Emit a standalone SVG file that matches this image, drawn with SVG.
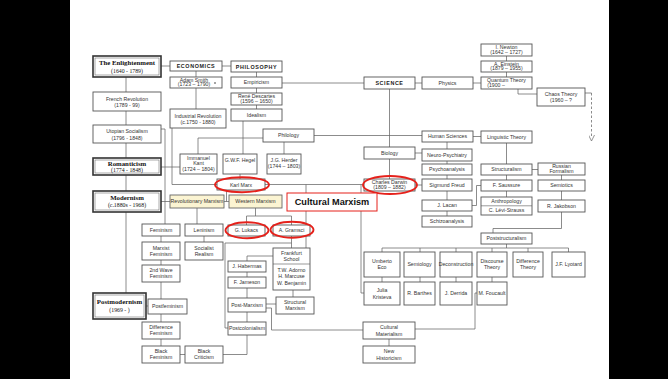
<svg xmlns="http://www.w3.org/2000/svg" width="668" height="379" viewBox="0 0 668 379">
<style>
.b{fill:#fff;stroke:#555;stroke-width:0.9}
.y{fill:#fbf4d2;stroke:#666;stroke-width:0.9}
.h{fill:#fff;stroke:#333;stroke-width:1.6}
.hi{fill:none;stroke:#555;stroke-width:0.5}
.t{font-family:"Liberation Sans",Arial,sans-serif;font-size:5.2px;fill:#333;text-anchor:middle}
.w{font-family:"Liberation Sans",Arial,sans-serif;font-size:5.2px;fill:#333;text-anchor:middle}
.hd{font-family:"Liberation Sans",Arial,sans-serif;font-weight:bold;font-size:5.4px;letter-spacing:0.6px;fill:#222;text-anchor:middle}
.sf{font-family:"Liberation Serif","Times New Roman",serif;font-weight:bold;font-size:6.8px;fill:#111;text-anchor:middle}
.sd{font-family:"Liberation Serif","Times New Roman",serif;font-size:5.8px;fill:#111;text-anchor:middle}
.c{fill:none;stroke:#666;stroke-width:0.75}
.r{fill:none;stroke:#e5211b;stroke-width:1.9}
</style>
<defs>
<marker id="ah" markerWidth="6" markerHeight="6" refX="3" refY="3" orient="auto" markerUnits="userSpaceOnUse"><path d="M0,0 L6,3 L0,6" fill="none" stroke="#666" stroke-width="0.7"/></marker>
</defs>
<rect x="0" y="0" width="668" height="379" fill="#fff"/>
<rect x="0" y="0" width="70" height="379" fill="#000"/>
<rect x="609" y="0" width="59" height="379" fill="#000"/>

<g id="connectors">
<path class="c" d="M161,66H170M222,66H231"/>
<path class="c" d="M126,77V92M126,111V125M126,143V158M126,175V191M126,212V293"/>
<path class="c" d="M196,71V77M196,88V109"/>
<path class="c" d="M256.5,72V77M256.5,88V93M256.5,105V109"/>
<path class="c" d="M282,83H364M415,83H422M473,83H481"/>
<path class="c" d="M506.5,56V61M506.5,72V77"/>
<path class="c" d="M518,89V94H537"/>
<path class="c" d="M585,93H591.5"/>
<path class="c" d="M591.5,93V138" stroke-dasharray="2.5,2" marker-end="url(#ah)"/>
<path class="c" d="M389.5,89V147M389.5,159V179"/>
<path class="c" d="M314,135.5H422"/>
<path class="c" d="M243,121V154"/>
<path class="c" d="M198,154V138H263"/>
<path class="c" d="M284,142V154"/>
<path class="c" d="M161,167H180"/>
<path class="c" d="M240,174V179"/>
<path class="c" d="M172,128V184.5H217"/>
<path class="c" d="M161,129H165V224"/>
<path class="c" d="M161,201.5H170M224,201.5H229M226.5,190V201.5"/>
<path class="c" d="M197,208V224M204,236V242"/>
<path class="c" d="M161,236V242M161,260V265M161,282V299M161,314V322M161,339V346"/>
<path class="c" d="M146,306H148M180,354.5H185"/>
<path class="c" d="M247,335V354.5H223"/>
<path class="c" d="M255.5,208V216M246.5,216H291.5M246.5,216V225M291.5,216V225"/>
<path class="c" d="M291.5,236V248M225,243H291.5M225,243V328H228"/>
<path class="c" d="M273,256H247V261M247,272V277M247,288V298M247,312V322"/>
<path class="c" d="M293,290V297M266,304H276"/>
<path class="c" d="M266,308H271.5V330H363"/>
<path class="c" d="M477,293H475V329H415"/>
<path class="c" d="M389,339V346"/>
<path class="c" d="M265,184.5H364"/>
<path class="c" d="M361,184.5V293H364"/>
<path class="c" d="M306,184.5V248"/>
<path class="c" d="M415,185H422M415,153H422"/>
<path class="c" d="M447,142V149M447,161V164M447,175V179M447,191V200M447,211V216"/>
<path class="c" d="M473,136.5H481"/>
<path class="c" d="M506.5,143V164M506.5,175V180M506.5,191V197"/>
<path class="c" d="M532,169.5H538M561.5,175V180M561.5,191V200"/>
<path class="c" d="M561.5,212V228.5H493V233"/>
<path class="c" d="M472,205.5H476.5V185.5H481"/>
<path class="c" d="M506.5,244V248M382,248H568.5M382,248V252M420,248V252M456,248V252M492,248V252M528,248V252M568.5,248V252"/>
<path class="c" d="M382,277V282M420,277V282M456,277V282M492,277V282"/>
</g>

<g id="nodes">
<g id="enlightenment"><rect class="h" x="93" y="56" width="68" height="21"/><rect class="hi" x="95" y="58" width="64" height="17"/><text class="sf" x="127" y="65">The Enlightenment</text><text class="sd" x="127" y="72.5">(1640 - 1789)</text></g>
<g id="romanticism"><rect class="h" x="93" y="158" width="68" height="17"/><rect class="hi" x="95" y="160" width="64" height="13"/><text class="sf" x="127" y="166">Romanticism</text><text class="sd" x="127" y="172.3">(1774 - 1848)</text></g>
<g id="modernism"><rect class="h" x="93" y="191" width="68" height="21"/><rect class="hi" x="95" y="193" width="64" height="17"/><text class="sf" x="127" y="200">Modernism</text><text class="sd" x="127" y="207.3">(c.1880s - 1968)</text></g>
<g id="postmodernism"><rect class="h" x="93" y="293" width="53" height="26"/><rect class="hi" x="95" y="295" width="49" height="22"/><text class="sf" x="119.5" y="304">Postmodernism</text><text class="sd" x="119.5" y="311.5">(1969 -      )</text></g>

<g id="french-revolution"><rect class="b" x="93" y="92" width="68" height="19"/><text class="t" x="127" y="100.5">French Revolution</text><text class="t" x="127" y="107">(1789 - 99)</text></g>
<g id="utopian-socialism"><rect class="b" x="93" y="125" width="68" height="18"/><text class="t" x="127" y="133">Utopian Socialism</text><text class="t" x="127" y="139.5">(1796 - 1848)</text></g>
<g id="economics"><rect class="b" x="170" y="61" width="52" height="10" stroke-width="1.2"/><text class="hd" x="196" y="68">ECONOMICS</text></g>
<g id="adam-smith"><rect class="b" x="170" y="77" width="52" height="11"/><text class="w" x="194" y="81.8" font-size="4.4">Adam Smith</text><text class="w" x="194" y="86.3" font-size="4.3">(1723 – 1790)</text><circle cx="215" cy="83" r="0.8" fill="#333"/></g>
<g id="industrial-revolution"><rect class="b" x="170" y="109" width="56" height="19"/><text class="t" x="198" y="117.5" font-size="5">Industrial Revolution</text><text class="t" x="198" y="124">(c.1750 - 1880)</text></g>
<g id="philosophy"><rect class="b" x="231" y="61" width="51" height="11" stroke-width="1.2"/><text class="hd" x="256.5" y="68.5">PHILOSOPHY</text></g>
<g id="empiricism"><rect class="b" x="231" y="77" width="51" height="11"/><text class="t" x="256.5" y="84.3">Empiricism</text></g>
<g id="descartes"><rect class="b" x="231" y="93" width="51" height="12"/><text class="w" x="256.5" y="98.3" font-size="4.4">René Descartes</text><text class="w" x="256.5" y="103" font-size="4.3">(1596 – 1650)</text></g>
<g id="idealism"><rect class="b" x="231" y="109" width="51" height="12"/><text class="t" x="256.5" y="116.8">Idealism</text></g>
<g id="philology"><rect class="b" x="263" y="129" width="51" height="13"/><text class="t" x="288.5" y="137.3">Philology</text></g>
<g id="kant"><rect class="b" x="180" y="154" width="37" height="20"/><text class="w" x="198.5" y="160" font-size="4.6">Immanuel</text><text class="w" x="198.5" y="165.3" font-size="4.6">Kant</text><text class="w" x="198.5" y="171" font-size="4.3">(1724 – 1804)</text></g>
<g id="hegel"><rect class="b" x="223" y="154" width="34" height="20"/><text class="w" x="240" y="162" font-size="4.8">G.W.F. Hegel</text></g>
<g id="herder"><rect class="b" x="267" y="154" width="34" height="20"/><text class="w" x="284" y="162" font-size="4.8">J.G. Herder</text><text class="w" x="284" y="168" font-size="4.3">(1744 – 1803)</text></g>
<g id="karl-marx"><rect class="b" x="217" y="179" width="48" height="11"/><text class="w" x="241" y="186.6" font-size="5.6">Karl  Marx</text></g>
<g id="revolutionary-marxism"><rect class="y" x="170" y="195" width="54" height="13"/><text class="w" x="197" y="203.3" font-size="4.6" fill="#7a6a3a">Revolutionary Marxism</text></g>
<g id="western-marxism"><rect class="y" x="229" y="195" width="53" height="13"/><text class="w" x="255.5" y="203.3" font-size="4.8" fill="#7a6a3a">Western Marxism</text></g>

<g id="science"><rect class="b" x="364" y="77" width="51" height="12" stroke-width="1.2"/><text class="hd" x="389.5" y="85">SCIENCE</text></g>
<g id="physics"><rect class="b" x="422" y="77" width="51" height="12"/><text class="t" x="447.5" y="84.8">Physics</text></g>
<g id="quantum"><rect class="b" x="481" y="77" width="51" height="12"/><text class="w" x="506.5" y="82" font-size="4.6">Quantum Theory</text><text class="w" x="496" y="87" font-size="4.2">(1900 –</text></g>
<g id="einstein"><rect class="b" x="481" y="61" width="51" height="11"/><text class="w" x="506.5" y="65.8" font-size="4.6">A. Einstein</text><text class="w" x="506.5" y="70.3" font-size="4.2">(1879 – 1955)</text></g>
<g id="newton"><rect class="b" x="481" y="44" width="51" height="12"/><text class="w" x="506.5" y="49.2" font-size="4.6">I. Newton</text><text class="w" x="506.5" y="54" font-size="4.2">(1642 – 1727)</text></g>
<g id="chaos"><rect class="b" x="537" y="88" width="48" height="18"/><text class="w" x="561" y="95.5" font-size="4.8">Chaos Theory</text><text class="w" x="561" y="101.5" font-size="4.5">(1960 –  ?</text></g>
<g id="human-sciences"><rect class="b" x="422" y="131" width="51" height="11"/><text class="t" x="447.5" y="138.3">Human Sciences</text></g>
<g id="linguistic"><rect class="b" x="481" y="131" width="51" height="12"/><text class="w" x="506.5" y="138.8" font-size="5">Linguistic Theory</text></g>
<g id="biology"><rect class="b" x="364" y="147" width="51" height="12"/><text class="t" x="389.5" y="154.8">Biology</text></g>
<g id="darwin"><rect class="b" x="364" y="179" width="51" height="12"/><text class="w" x="389.5" y="184.3" font-size="4.6">Charles Darwin</text><text class="w" x="389.5" y="189" font-size="4.2">(1809 – 1882)</text></g>
<g id="neuro"><rect class="b" x="422" y="149" width="50" height="12"/><text class="w" x="447" y="156.8" font-size="4.8">Neuro-Psychiatry</text></g>
<g id="psychoanalysis"><rect class="b" x="422" y="164" width="50" height="11"/><text class="w" x="447" y="171.3" font-size="4.8">Psychoanalysis</text></g>
<g id="freud"><rect class="b" x="422" y="179" width="50" height="12"/><text class="w" x="447" y="186.8" font-size="5">Sigmund Freud</text></g>
<g id="lacan"><rect class="b" x="422" y="200" width="50" height="11"/><text class="w" x="447" y="207.3" font-size="5">J. Lacan</text></g>
<g id="schizo"><rect class="b" x="422" y="216" width="50" height="11"/><text class="w" x="447" y="223.3" font-size="4.8">Schizoanalysis</text></g>
<g id="structuralism"><rect class="b" x="481" y="164" width="51" height="11"/><text class="w" x="506.5" y="171.3" font-size="5">Structuralism</text></g>
<g id="russian-formalism"><rect class="b" x="538" y="163" width="47" height="12"/><text class="w" x="561.5" y="168" font-size="4.6">Russian</text><text class="w" x="561.5" y="173" font-size="4.6">Formalism</text></g>
<g id="saussure"><rect class="b" x="481" y="180" width="51" height="11"/><text class="w" x="506.5" y="187.3" font-size="5">F. Saussure</text></g>
<g id="anthropology"><rect class="b" x="481" y="197" width="51" height="18"/><line x1="481" y1="205.8" x2="532" y2="205.8" stroke="#555" stroke-width="0.6"/><text class="w" x="506.5" y="203.3" font-size="4.8">Anthropology</text><text class="w" x="506.5" y="212.3" font-size="4.8">C. Lévi-Strauss</text></g>
<g id="semiotics"><rect class="b" x="538" y="180" width="47" height="11"/><text class="w" x="561.5" y="187.3" font-size="5">Semiotics</text></g>
<g id="jakobson"><rect class="b" x="538" y="200" width="47" height="12"/><text class="w" x="561.5" y="207.8" font-size="5">R. Jakobson</text></g>
<g id="poststructuralism"><rect class="b" x="481" y="233" width="51" height="11"/><text class="w" x="506.5" y="240.3" font-size="4.8">Poststructuralism</text></g>

<g id="feminism"><rect class="b" x="142" y="224" width="38" height="12"/><text class="w" x="161" y="231.8">Feminism</text></g>
<g id="leninism"><rect class="b" x="185" y="224" width="38" height="12"/><text class="w" x="204" y="231.8">Leninism</text></g>
<g id="marxist-feminism"><rect class="b" x="142" y="242" width="38" height="18"/><text class="w" x="161" y="249.5">Marxist</text><text class="w" x="161" y="255.5">Feminism</text></g>
<g id="socialist-realism"><rect class="b" x="185" y="242" width="38" height="18"/><text class="w" x="204" y="249.5">Socialist</text><text class="w" x="204" y="255.5">Realism</text></g>
<g id="second-wave"><rect class="b" x="142" y="265" width="38" height="17"/><text class="w" x="161" y="272">2nd Wave</text><text class="w" x="161" y="278">Feminism</text></g>
<g id="postfeminism"><rect class="b" x="148" y="299" width="39" height="15"/><text class="w" x="167.5" y="308" font-size="5">Postfeminism</text></g>
<g id="difference-feminism"><rect class="b" x="142" y="322" width="38" height="17"/><text class="w" x="161" y="329">Difference</text><text class="w" x="161" y="335">Feminism</text></g>
<g id="black-feminism"><rect class="b" x="142" y="346" width="38" height="17"/><text class="w" x="161" y="353">Black</text><text class="w" x="161" y="359">Feminism</text></g>
<g id="black-criticism"><rect class="b" x="185" y="346" width="38" height="17"/><text class="w" x="204" y="353">Black</text><text class="w" x="204" y="359">Criticism</text></g>
<g id="lukacs"><rect class="b" x="228" y="225" width="37" height="11"/><text class="w" x="246.5" y="232.3">G. Lukacs</text></g>
<g id="gramsci"><rect class="b" x="273" y="225" width="37" height="11"/><text class="w" x="291.5" y="232.3">A. Gramsci</text></g>
<g id="habermas"><rect class="b" x="228" y="261" width="38" height="11"/><text class="w" x="247" y="268.3" font-size="5">J. Habermas</text></g>
<g id="jameson"><rect class="b" x="228" y="277" width="38" height="11"/><text class="w" x="247" y="284.3" font-size="5">F. Jameson</text></g>
<g id="post-marxism"><rect class="b" x="228" y="298" width="38" height="14"/><text class="w" x="247" y="306.8" font-size="5">Post-Marxism</text></g>
<g id="postcolonialism"><rect class="b" x="228" y="322" width="38" height="13"/><text class="w" x="247" y="330.3" font-size="4.7">Postcolonialism</text></g>
<g id="frankfurt"><rect class="b" x="273" y="248" width="37" height="42"/><line x1="273" y1="264" x2="310" y2="264" stroke="#555" stroke-width="0.6"/><text class="w" x="291.5" y="255">Frankfurt</text><text class="w" x="291.5" y="261">School</text><text class="w" x="291.5" y="271.5" font-size="4.7">T.W. Adorno</text><text class="w" x="291.5" y="278" font-size="4.7">H. Marcuse</text><text class="w" x="291.5" y="284.5" font-size="4.7">W. Benjamin</text></g>
<g id="structural-marxism"><rect class="b" x="276" y="297" width="38" height="17"/><text class="w" x="295" y="304">Structural</text><text class="w" x="295" y="310">Marxism</text></g>
<g id="eco"><rect class="b" x="364" y="252" width="36" height="25"/><text class="w" x="382" y="262.5">Umberto</text><text class="w" x="382" y="269">Eco</text></g>
<g id="kristeva"><rect class="b" x="364" y="282" width="36" height="23"/><text class="w" x="382" y="292">Julia</text><text class="w" x="382" y="298.5">Kristeva</text></g>
<g id="semiology"><rect class="b" x="404" y="252" width="31" height="25"/><text class="w" x="419.5" y="266" font-size="4.8">Semiology</text></g>
<g id="barthes"><rect class="b" x="404" y="282" width="31" height="23"/><text class="w" x="419.5" y="295" font-size="4.8">R. Barthes</text></g>
<g id="deconstruction"><rect class="b" x="440" y="252" width="32" height="25"/><text class="w" x="456" y="266" font-size="4.1">Deconstruction</text></g>
<g id="derrida"><rect class="b" x="440" y="282" width="32" height="23"/><text class="w" x="456" y="295" font-size="4.8">J. Derrida</text></g>
<g id="discourse"><rect class="b" x="477" y="252" width="30" height="25"/><text class="w" x="492" y="262.5" font-size="5">Discourse</text><text class="w" x="492" y="269" font-size="5">Theory</text></g>
<g id="foucault"><rect class="b" x="477" y="282" width="30" height="23"/><text class="w" x="492" y="295" font-size="4.5">M. Foucault</text></g>
<g id="difference-theory"><rect class="b" x="513" y="252" width="30" height="25"/><text class="w" x="528" y="262.5" font-size="5">Difference</text><text class="w" x="528" y="269" font-size="5">Theory</text></g>
<g id="lyotard"><rect class="b" x="552" y="252" width="33" height="25"/><text class="w" x="568.5" y="266" font-size="5">J.F. Lyotard</text></g>
<g id="cultural-materialism"><rect class="b" x="363" y="322" width="52" height="17"/><text class="w" x="389" y="329">Cultural</text><text class="w" x="389" y="335.5">Materialism</text></g>
<g id="new-historicism"><rect class="b" x="363" y="346" width="52" height="17"/><text class="w" x="389" y="353">New</text><text class="w" x="389" y="359.5">Historicism</text></g>
</g>

<g id="highlights">
<ellipse class="r" cx="242" cy="184.7" rx="27" ry="7.5"/>
<ellipse class="r" cx="247" cy="230.2" rx="21.5" ry="8"/>
<ellipse class="r" cx="292" cy="229.8" rx="21.5" ry="8"/>
<ellipse class="r" cx="390" cy="185" rx="27" ry="9"/>
<g id="cultural-marxism"><rect x="287" y="193" width="90" height="18" fill="#fff" stroke="#e5211b" stroke-width="1"/><text x="332" y="205" font-family="'Liberation Sans',Arial,sans-serif" font-weight="bold" font-size="9.2" fill="#111" text-anchor="middle">Cultural Marxism</text></g>
</g>
</svg>
